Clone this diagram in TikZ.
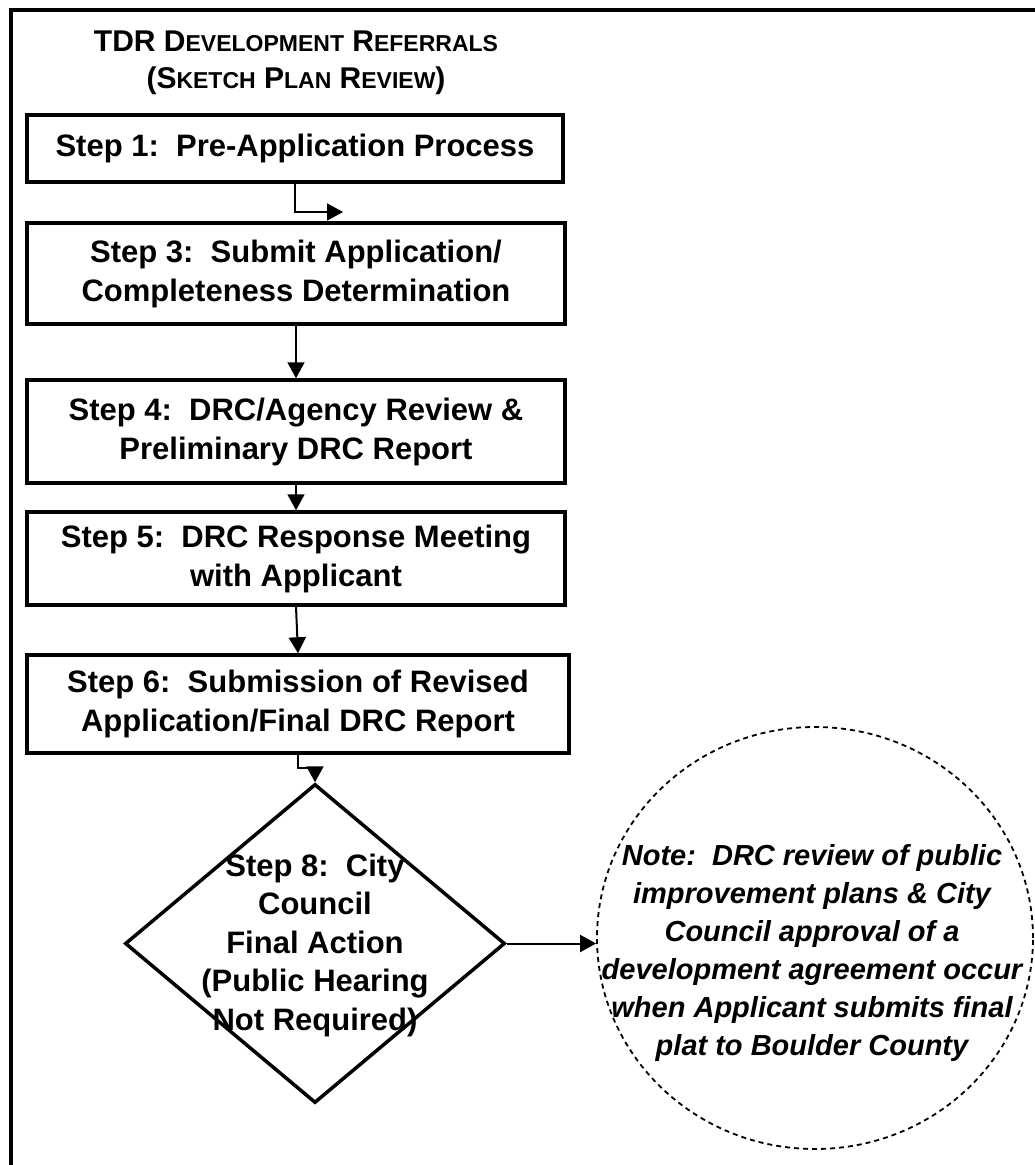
\documentclass[tikz,border=0pt]{standalone}
\usepackage{fontspec}
\setmainfont{Liberation Sans}
\usetikzlibrary{shapes.geometric,arrows.meta}
% fake small capitals: smaller upper-case letters
\newcommand\mysc[1]{{\fontsize{23}{23}\selectfont #1}}

\begin{document}
\begin{tikzpicture}[x=1pt,y=-1pt,
  stepbox/.style={draw, line width=3.5pt, minimum width=538pt, inner sep=0pt,
    align=center, font=\fontsize{31}{39}\selectfont\bfseries},
  txt/.style={align=center, inner sep=0pt, font=\fontsize{31}{38.5}\selectfont\bfseries},
  link/.style={line width=2pt, -{Triangle[length=16pt,width=17pt]}},
]
\useasboundingbox (0,0) rectangle (1034,1165);

% outer frame (top and left edges)
\draw[line width=4.5pt, line join=miter] (1040,10) -- (11,10) -- (11,1170);

% title
\node[align=center, inner sep=0pt, font=\fontsize{30}{37}\selectfont\bfseries] (title) at (296,63)
  {TDR D\mysc{EVELOPMENT} R\mysc{EFERRALS}\\(S\mysc{KETCH} P\mysc{LAN} R\mysc{EVIEW})};

% process steps
\node[stepbox, minimum width=536pt, minimum height=67pt] (s1) at (295,148.5)
  {Step 1:~~Pre-Application Process};
\node[stepbox, minimum height=101pt] (s3) at (296,273.5)
  {Step 3:~~Submit Application/\\Completeness Determination};
\node[stepbox, minimum height=103pt] (s4) at (296,431.5)
  {Step 4:~~DRC/Agency Review \&\\Preliminary DRC Report};
\node[stepbox, minimum height=93pt] (s5) at (296,558.5)
  {Step 5:~~DRC Response Meeting\\with Applicant};
\node[stepbox, minimum width=542pt, minimum height=98pt] (s6) at (298,704)
  {Step 6:~~Submission of Revised\\Application/Final DRC Report};

% decision
\node[diamond, draw, line width=3.5pt, inner sep=0pt, minimum width=380pt, minimum height=319pt] (d8) at (315,943.5) {};
\node[txt] (d8t) at (315,945)
  {Step 8:~~City\\Council\\Final Action\\(Public Hearing\\Not Required)};

% note
\node[ellipse, draw, line width=1.8pt, dash pattern=on 5pt off 4pt, inner sep=0pt,
  minimum width=436pt, minimum height=422pt] (note) at (815,938) {};
\node[align=center, inner sep=0pt, font=\fontsize{29}{38}\selectfont\bfseries\itshape] (notet) at (812,953)
  {Note:~~DRC review of public\\improvement plans \& City\\Council approval of a\\development agreement occur\\when Applicant submits final\\plat to Boulder County};

% connectors
\coordinate (t13) at (343,212);
\draw[link] (s1.south) |- (t13);
\draw[link] (s3.south) -- (s4.north);
\draw[link] (s4.south) -- (s5.north);
\draw[link] (s5.south) -- (s6.north);
\draw[link] (s6.south) -- ++(0,13) -| (d8.north);
\draw[link] (d8.east) -- (d8.east -| note.west);
\end{tikzpicture}
\end{document}
